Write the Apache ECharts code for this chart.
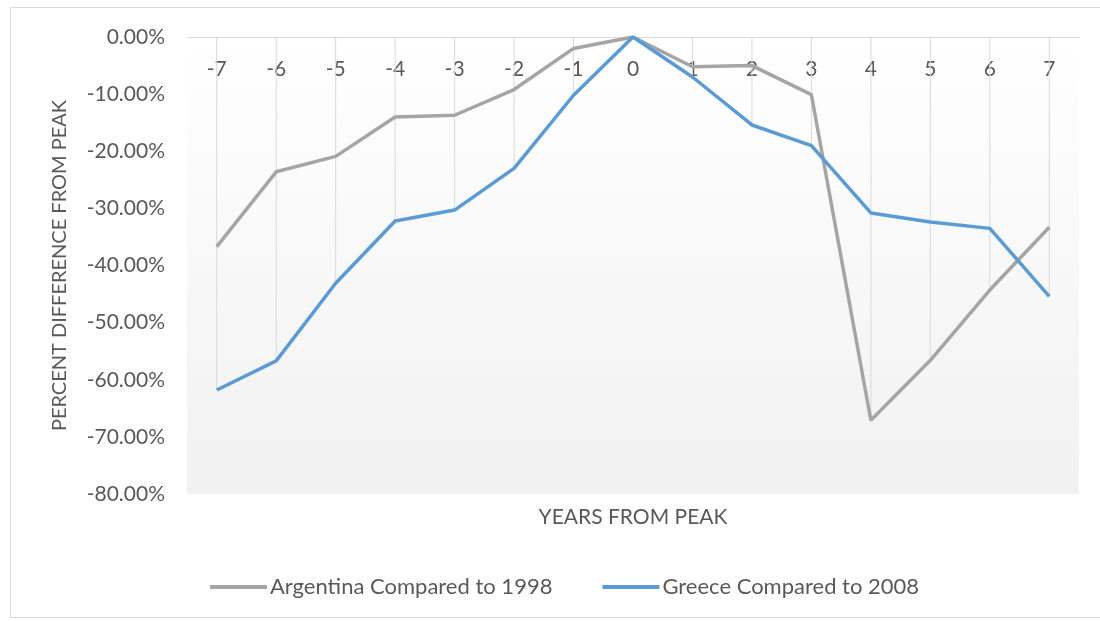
<!DOCTYPE html>
<html>
<head>
<meta charset="utf-8">
<script src="https://cdn.jsdelivr.net/npm/echarts@6/dist/echarts.min.js"></script>
<style>
  html, body { margin: 0; padding: 0; background: #ffffff; }
  #chart { width: 1100px; height: 621px; }
</style>
</head>
<body>
<div id="chart"></div>
<script>
// Years relative to each country's peak
const years = ['-7', '-6', '-5', '-4', '-3', '-2', '-1', '0', '1', '2', '3', '4', '5', '6', '7'];

// Percent difference from peak (in %)
const argentina = [-36.7, -23.6, -20.9, -14.0, -13.7, -9.2, -2.0, 0, -5.2, -5.0, -10.1, -67.1, -56.6, -44.3, -33.3];
const greece    = [-61.8, -56.7, -43.1, -32.2, -30.3, -23.0, -10.2, 0, -7.0, -15.4, -19.0, -30.8, -32.4, -33.5, -45.4];

const yTicks = { min: -80, max: 0, interval: 10 };

const seriesNames = ['Argentina Compared to 1998', 'Greece Compared to 2008'];

// Drop lines run from the category axis down to the lower of the two series
const dropLines = years.map((_, i) => Math.min(argentina[i], greece[i]));

const FONT = 'Lato';
const TEXT = '#595959';

const chart = echarts.init(document.getElementById('chart'), null, { renderer: 'canvas' });

chart.setOption({
  animation: false,
  backgroundColor: '#ffffff',
  textStyle: { fontFamily: FONT },
  grid: {
    left: 187, right: 21, top: 37, bottom: 127,
    show: true,
    borderWidth: 0,
    backgroundColor: new echarts.graphic.LinearGradient(0, 0, 0, 1, [
      { offset: 0, color: '#ffffff' },
      { offset: 1, color: '#f1f1f1' }
    ])
  },
  legend: {
    data: seriesNames,
    left: 205,
    top: 571,
    icon: 'rect',
    itemWidth: 57,
    itemHeight: 4,
    itemGap: 50,
    textStyle: { fontFamily: FONT, fontSize: 22, color: TEXT, padding: [0, 0, 0, -2] }
  },
  xAxis: {
    type: 'category',
    position: 'top',
    data: years,
    boundaryGap: true,
    axisLine: { show: true, lineStyle: { color: '#d9d9d9', width: 1 } },
    axisTick: { show: false },
    axisLabel: {
      inside: true,
      margin: 22,
      fontFamily: FONT,
      fontSize: 21,
      color: TEXT
    },
    splitLine: { show: false }
  },
  yAxis: {
    type: 'value',
    min: yTicks.min,
    max: yTicks.max,
    interval: yTicks.interval,
    name: 'PERCENT DIFFERENCE FROM PEAK',
    nameLocation: 'middle',
    nameGap: 117,
    nameRotate: 90,
    nameTextStyle: { fontFamily: FONT, fontSize: 20, color: TEXT },
    axisLine: { show: false },
    axisTick: { show: false },
    splitLine: { show: false },
    axisLabel: {
      margin: 22,
      fontFamily: FONT,
      fontSize: 21,
      color: TEXT,
      formatter: v => v.toFixed(2) + '%'
    }
  },
  graphic: [
    {
      type: 'rect',
      silent: true,
      shape: { x: 10.5, y: 7.5, width: 1100, height: 610 },
      style: { fill: null, stroke: '#d9d9d9', lineWidth: 1 }
    },
    {
      type: 'text',
      silent: true,
      x: 633, y: 517,
      style: {
        text: 'YEARS FROM PEAK',
        fontFamily: FONT,
        fontSize: 21,
        fill: TEXT,
        align: 'center',
        verticalAlign: 'middle'
      }
    }
  ],
  series: [
    {
      name: 'drop',
      type: 'bar',
      data: dropLines,
      barWidth: 1,
      silent: true,
      itemStyle: { color: '#d9d9d9' },
      z: 1
    },
    {
      name: seriesNames[0],
      type: 'line',
      data: argentina,
      showSymbol: false,
      symbol: 'none',
      lineStyle: { color: '#a5a5a5', width: 3.5 },
      itemStyle: { color: '#a5a5a5' },
      z: 3
    },
    {
      name: seriesNames[1],
      type: 'line',
      data: greece,
      showSymbol: false,
      symbol: 'none',
      lineStyle: { color: '#5b9bd5', width: 3.5 },
      itemStyle: { color: '#5b9bd5' },
      z: 4
    }
  ]
});
</script>
</body>
</html>
